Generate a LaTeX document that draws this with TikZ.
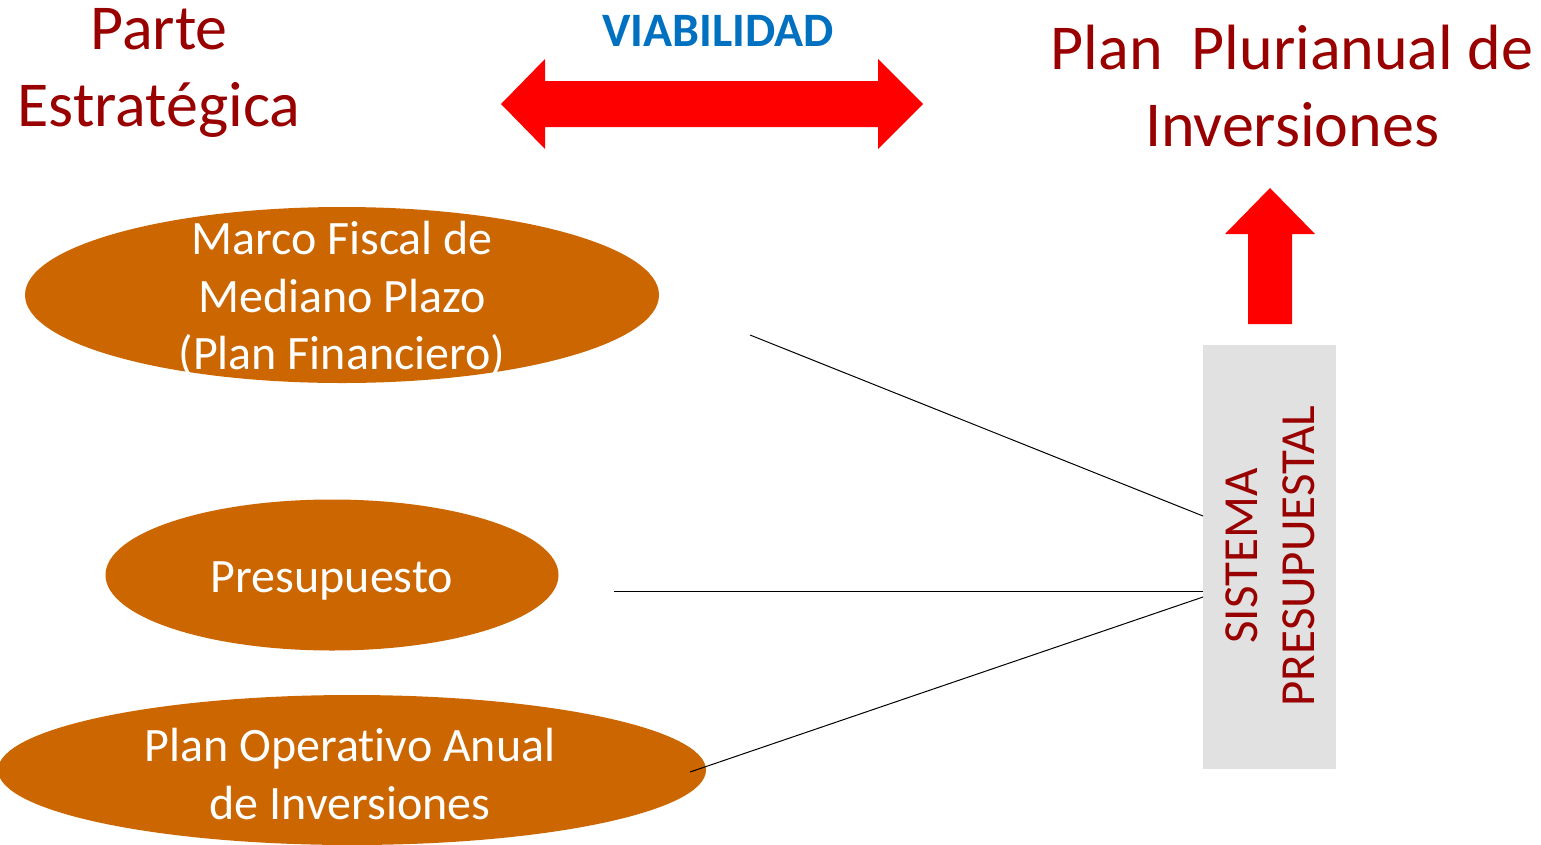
\documentclass[tikz,border=0pt]{standalone}
\usepackage{fontspec}
\setmainfont{Carlito}[Ligatures={NoCommon}]
\usetikzlibrary{shapes.geometric}
\definecolor{dred}{HTML}{990000}
\definecolor{vblue}{HTML}{0070C0}
\definecolor{oval}{HTML}{CC6600}
\definecolor{gbox}{HTML}{E1E1E1}
\definecolor{arr}{HTML}{FF0000}
\tikzset{
  oval/.style={ellipse, fill=oval, draw=none, inner sep=0pt},
  ovaltext/.style={text=white, align=center, inner sep=0pt, font=\fontsize{48}{57.5}\selectfont},
  title/.style={text=dred, align=center, font=\fontsize{64}{77}\selectfont, inner sep=0pt},
  link/.style={draw=black, line width=1pt},
}
\begin{document}
\begin{tikzpicture}[x=1pt,y=-1pt]
\useasboundingbox (0,0) rectangle (1541,844);
% titles
\node[title] (parte) at (159,73) {Parte\\Estratégica};
\node[title] (pluri) at (1292,86) {Plan\ \ Plurianual de\\Inversiones};
\node[text=vblue, font=\fontsize{48}{56}\bfseries\selectfont, inner sep=0pt] (viab) at (718,31) {VIABILIDAD};
% double arrow
\fill[arr] (501,104) -- (545,59) -- (545,81) -- (878,81) -- (878,59) -- (923,104)
  -- (878,149) -- (878,127) -- (545,127) -- (545,149) -- cycle;
% up arrow
\fill[arr] (1248,324) -- (1248,234) -- (1225,234) -- (1270,188) -- (1315,234)
  -- (1292,234) -- (1292,324) -- cycle;
% ellipses
\node[oval, minimum width=634pt, minimum height=176pt] (mfmp) at (342,295) {};
\node[ovaltext] (mfmpt) at (342,299) {Marco Fiscal de\\Mediano Plazo\\(Plan Financiero)};
\node[oval, minimum width=453pt, minimum height=151pt] (pres) at (332,575) {};
\node[ovaltext] (prest) at (332,581) {Presupuesto};
\node[oval, minimum width=708pt, minimum height=150pt] (poai) at (352,770) {};
\node[ovaltext] (poait) at (350,774) {Plan Operativo Anual\\de Inversiones};
% system box
\node[fill=gbox, draw=none, minimum width=133pt, minimum height=424pt, inner sep=0pt] (sp) at (1269.5,557) {};
\node[rotate=90, text=dred, align=center, inner sep=0pt, font=\fontsize{49}{57}\selectfont] (sptxt) at (1270,556) {SISTEMA\\PRESUPUESTAL};
% connectors
\coordinate (a1) at (750,335);
\coordinate (a2) at (614,591);
\coordinate (a3) at (690,772);
\coordinate (b1) at (1203,516);
\coordinate (b2) at (1203,591);
\coordinate (b3) at (1203,597);
\draw[link] (a1) -- (b1);
\draw[link] (a2) -- (b2);
\draw[link] (a3) -- (b3);
\end{tikzpicture}
\end{document}
